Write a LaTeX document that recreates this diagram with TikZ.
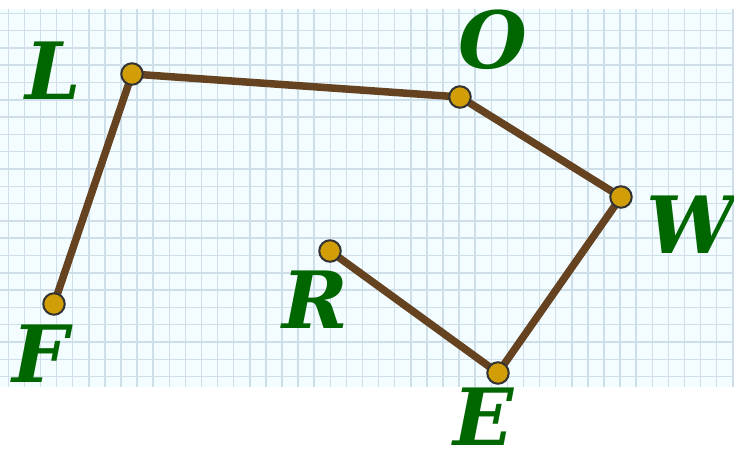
\documentclass[tikz,border=0pt]{standalone}
\usepackage{fontspec}
\setmainfont{DejaVu Serif}
\newfontfamily\labfont{DejaVu Serif}[BoldItalicFont={* Bold Italic}]
\definecolor{gridbg}{RGB}{243,252,255}
\definecolor{gridln}{RGB}{206,223,233}
\definecolor{edgebrown}{RGB}{101,67,33}
\definecolor{ptfill}{RGB}{210,158,8}
\definecolor{ptdraw}{RGB}{50,50,50}
\definecolor{labgreen}{RGB}{0,102,0}
\tikzset{
  edgeline/.style={draw=edgebrown, line width=7.5pt, line join=round, line cap=round},
  ptnode/.style={circle, fill=ptfill, draw=ptdraw, line width=2pt, minimum size=21.5pt, inner sep=0pt},
  labnode/.style={text=labgreen, font=\fontsize{79}{80}\selectfont\labfont\bfseries\itshape, inner sep=0pt}
}
\begin{document}
\begin{tikzpicture}[x=1pt,y=-1pt]
\useasboundingbox (0,0) rectangle (734,453);
% graph paper
\fill[gridbg] (0,9) rectangle (734,387);
\begin{scope}
\clip (0,9) rectangle (734,387);
\foreach \i in {0,...,45} {
  \draw[gridln, line width=1.5pt] ({8.3+16.1*\i},9) -- ({8.3+16.1*\i},387);
}
\foreach \j in {0,...,21} {
  \draw[gridln, line width=1.5pt] (0,{13.3+17.3*\j}) -- (734,{13.3+17.3*\j});
}
\end{scope}
% points
\coordinate (cF) at (54,304);
\coordinate (cL) at (132,74);
\coordinate (cO) at (460,97);
\coordinate (cW) at (621,197);
\coordinate (cE) at (498,373);
\coordinate (cR) at (330,251);
\draw[edgeline] (cF) -- (cL) -- (cO) -- (cW) -- (cE) -- (cR);
\node[ptnode] (F) at (cF) {};
\node[ptnode] (L) at (cL) {};
\node[ptnode] (O) at (cO) {};
\node[ptnode] (W) at (cW) {};
\node[ptnode] (E) at (cE) {};
\node[ptnode] (R) at (cR) {};
% labels
\node[labnode] (tL) at (53,71) {L};
\node[labnode] (tF) at (41,354) {F};
\node[labnode] (tO) at (493,40) {O};
\node[labnode] (tW) at (691,225) {W};
\node[labnode] (tE) at (484,417) {E};
\node[labnode] (tR) at (315,300) {R};
\end{tikzpicture}
\end{document}
